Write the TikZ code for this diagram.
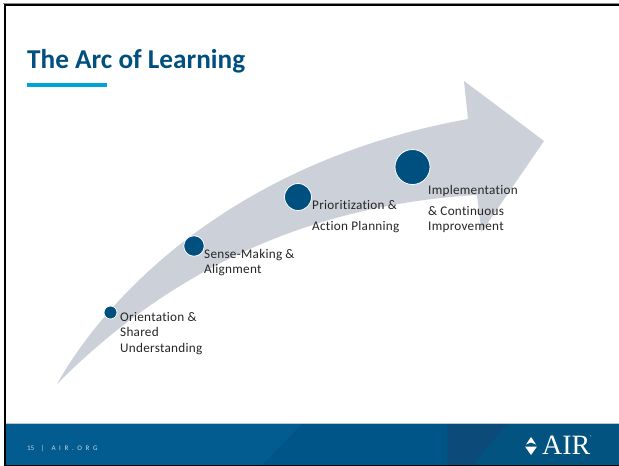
\documentclass[tikz,border=0pt]{standalone}
\usepackage{fontspec}
\setmainfont{Carlito}
\newfontfamily\serifair{Liberation Serif}
\definecolor{airblue}{HTML}{00507F}
\definecolor{airdark}{HTML}{0C4A7A}
\definecolor{airmid}{HTML}{005588}
\definecolor{airleft}{HTML}{035C90}
\definecolor{airright}{HTML}{02537F}
\definecolor{airsky}{HTML}{00A3D8}
\definecolor{arcgray}{HTML}{CBD0D9}
\definecolor{labelgray}{HTML}{262626}
\tikzset{
  stage/.style={circle,fill=airblue,draw=white,line width=0.8pt,inner sep=0pt},
  stagetext/.style={anchor=north west,inner sep=0pt,align=left,text=labelgray,font=\fontsize{13.2}{15.4}\selectfont\addfontfeatures{LetterSpace=2,Ligatures=NoCommon}},
}
\begin{document}
\begin{tikzpicture}[x=1pt,y=-1pt]
\useasboundingbox (0,0) rectangle (619,466);
\fill[white] (0,0) rectangle (619,466);
% footer
\fill[airleft] (4,424) rectangle (619,465);
\fill[airmid] (302,424) -- (619,424) -- (619,465) -- (262,465) -- cycle;
\fill[airdark] (447,424) -- (507,424) -- (473,465) -- (447,465) -- cycle;
\fill[airright] (507,424) -- (619,424) -- (619,465) -- (473,465) -- cycle;
\draw[color=airsky!25!gray!45!white,line width=1pt] (4,423.6) -- (619,423.6);
% frame
\draw[black!45,line width=0.8pt] (619,3.4) -- (3,3.4);
\draw[black,line width=2.2pt] (619,5) -- (4.8,5) -- (4.8,465.6) -- (619,465.6);
% title
\node[anchor=base west,inner sep=0pt,text=airblue,font=\fontsize{27.25}{30}\selectfont\bfseries] (title) at (27,68) {The Arc of Learning};
\fill[airsky] (27,82.5) rectangle (107,86.5);
% arc arrow
\fill[arcgray] (57,384)
  .. controls (110,290) and (240,160) .. (468,119)
  -- (464,81) -- (544,141) -- (481.5,232) -- (477,195)
  .. controls (340,203) and (190,250) .. (57,384) -- cycle;
% stages
\node[stage,minimum size=13pt] (s1) at (110.5,312.5) {};
\node[stage,minimum size=20.5pt] (s2) at (194,246) {};
\node[stage,minimum size=27pt] (s3) at (298,197) {};
\node[stage,minimum size=35pt] (s4) at (412.5,167) {};
\node[stagetext] (t1) at (120,312) {Orientation \&\\Shared\\Understanding};
\node[stagetext] (t2) at (204,249) {Sense-Making \&\\Alignment};
\node[stagetext] (t3) at (312,200) {Prioritization \&};
\node[stagetext] (t3b) at (312,221) {Action Planning};
\node[stagetext] (t4) at (428,185) {Implementation};
\node[stagetext] (t4b) at (428,206) {\& Continuous\\Improvement};
% footer text
\node[anchor=base west,inner sep=0pt,text=white!78!airblue,font=\fontsize{7}{8}\selectfont] (foot) at (27,450.5) {15\hspace{6.5pt}|\hspace{7.5pt}{\addfontfeatures{LetterSpace=52}AIR.ORG}};
% logo
\node[anchor=base west,inner sep=0pt,text=white,font=\fontsize{28}{28}\serifair] (air) at (542,454) {AIR};
\node[anchor=base west,inner sep=0pt,text=white,font=\fontsize{4}{4}\selectfont] (reg) at (590,438.5) {®};
\fill[white] (525,446.5) -- (537,446.5) -- (531,455) -- cycle;
\fill[white] (526,444.5) -- (531,437) -- (536,444.5) -- (531,442.5) -- cycle;
\end{tikzpicture}
\end{document}
